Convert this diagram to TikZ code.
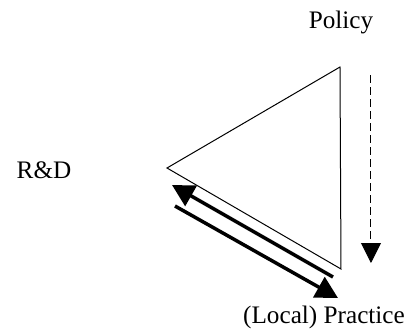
\documentclass[tikz,border=0pt]{standalone}
\usepackage{fontspec}
\setmainfont{Liberation Serif}
\usetikzlibrary{arrows.meta}
\begin{document}
\begin{tikzpicture}[x=0.5pt, y=-0.5pt, font=\fontsize{12.6}{15}\selectfont,
    bigarrow/.style={-{Triangle[length=11pt,width=11.5pt]}, line width=1.75pt},
    dasharrow/.style={-{Triangle[length=10pt,width=10pt]}, line width=0.5pt, dash pattern=on 4pt off 2pt},
    label/.style={anchor=base, inner sep=0pt}]
    \useasboundingbox (0,0) rectangle (409,333);
    % triangle corners
    \coordinate (top) at (340,67);
    \coordinate (left) at (167,168);
    \coordinate (bottom) at (341,269);
    \draw[line width=0.5pt] (top) -- (left) -- (bottom) -- cycle;
    % labels
    \node[label] (policy) at (341,28) {Policy};
    \node[label] (rd) at (44,178) {R\&D};
    \node[label] (practice) at (324,323) {(Local) Practice};
    % arrows
    \coordinate (dtop) at (371,75);
    \coordinate (dend) at (371,263);
    \draw[dasharrow] (dtop) -- (dend);
    \coordinate (upstart) at (333,277);
    \coordinate (upend) at (172,185);
    \draw[bigarrow] (upstart) -- (upend);
    \coordinate (downstart) at (175,206);
    \coordinate (downend) at (338,298);
    \draw[bigarrow] (downstart) -- (downend);
\end{tikzpicture}
\end{document}
